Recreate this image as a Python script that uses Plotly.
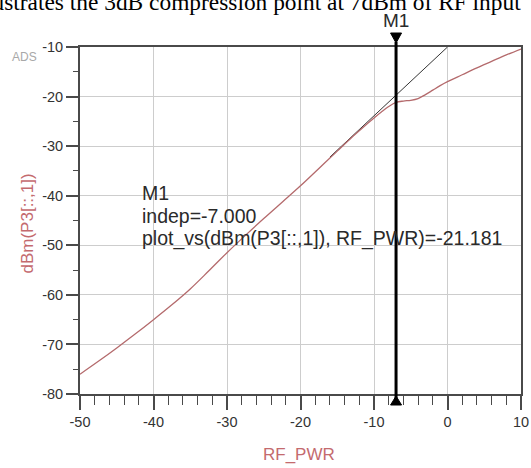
import plotly.graph_objects as go

# Swept RF input power (dBm) and simulated output power dBm(P3[::,1])
rf_pwr = [-50, -47.5, -45, -42.5, -40, -37.5, -35, -32.5, -30, -27.5, -25, -22.5,
          -20, -17.5, -15, -13, -11, -10, -9, -8, -7, -6, -5, -4, -3, -2, -1,
          0, 2, 4, 6, 8, 10]
p_out = [-76.0, -73.4, -70.7, -67.9, -65.0, -62.0, -58.8, -55.2, -51.5, -48.0,
         -44.6, -41.3, -38.0, -34.5, -31.0, -28.2, -25.6, -24.3, -23.1, -22.0,
         -21.181, -20.9, -20.75, -20.4, -19.6, -18.7, -17.8, -17.0, -15.6,
         -14.2, -12.9, -11.6, -10.4]

# Linear-gain reference line (extrapolated small-signal slope)
ref_x = [-16, 0]
ref_y = [-32.2, -10]

# Marker M1
m1_x = -7.0
m1_y = -21.181

x_ticks = [-50, -40, -30, -20, -10, 0, 10]
y_ticks = [-80, -70, -60, -50, -40, -30, -20, -10]

TRACE_RED = "#b46a6c"
TITLE_RED = "#c46a6e"
TEXT_DARK = "#2a2a2a"
AXIS_GREY = "#4a4a4a"
GRID_GREY = "#cdcdcd"
SANS = "Liberation Sans, Arial, sans-serif"

fig = go.Figure()

fig.add_trace(go.Scatter(
    x=ref_x, y=ref_y, mode="lines",
    line=dict(color="#333333", width=1), hoverinfo="skip", showlegend=False,
))
fig.add_trace(go.Scatter(
    x=rf_pwr, y=p_out, mode="lines", line_shape="spline",
    line=dict(color=TRACE_RED, width=1.3), showlegend=False,
))

# marker line across the plot, extended to the triangles above and below it
fig.add_shape(type="line", xref="x", yref="paper", ysizemode="pixel", yanchor=0,
              x0=m1_x, x1=m1_x, y0=-4, y1=352,
              line=dict(color="black", width=3))
fig.add_shape(type="path", xref="x", yref="paper", xsizemode="pixel", xanchor=m1_x,
              ysizemode="pixel", yanchor=1,
              path="M -5.5 14 L 5.5 14 L 0 4 Z",
              fillcolor="black", line=dict(color="black", width=1))
fig.add_shape(type="path", xref="x", yref="paper", xsizemode="pixel", xanchor=m1_x,
              ysizemode="pixel", yanchor=0,
              path="M -5.5 -11 L 5.5 -11 L 0 -2 Z",
              fillcolor="black", line=dict(color="black", width=1))

readout = ["M1", f"indep={m1_x:.3f}", f"plot_vs(dBm(P3[::,1]), RF_PWR)={m1_y:.3f}"]
readout_y = [0.579, 0.514, 0.449]

annotations = [
    dict(text="M1", xref="x", yref="paper", x=m1_x, y=1.077,
         xanchor="center", yanchor="middle", showarrow=False,
         font=dict(family=SANS, size=19, color=TEXT_DARK)),
    dict(text="ADS", xref="paper", yref="paper", x=-0.125, y=0.97,
         xanchor="center", yanchor="middle", showarrow=False,
         font=dict(family=SANS, size=12, color="#a8a8a8")),
    dict(text="dBm(P3[::,1])", xref="paper", yref="paper", x=-0.119, y=0.49,
         xanchor="center", yanchor="middle", textangle=-90, showarrow=False,
         font=dict(family=SANS, size=17, color=TITLE_RED)),
    dict(text="RF_PWR", xref="paper", yref="paper", x=0.4966, y=-0.173,
         xanchor="center", yanchor="middle", showarrow=False,
         font=dict(family=SANS, size=17, color=TITLE_RED)),
    dict(text="illustrates the 3dB compression point at 7dBm of RF input",
         xref="paper", yref="paper", x=1.005, y=1.1305, xanchor="right",
         yanchor="middle", showarrow=False,
         font=dict(family="Liberation Serif, Times New Roman, serif", size=23.4,
                   color="black")),
]
for line, ly in zip(readout, readout_y):
    annotations.append(dict(
        text=line, xref="paper", yref="paper", x=0.136, y=ly,
        xanchor="left", yanchor="middle", showarrow=False,
        font=dict(family=SANS, size=19.5, color=TEXT_DARK)))

fig.update_layout(
    width=531, height=468,
    margin=dict(l=80, r=10, t=47, b=74, autoexpand=False),
    paper_bgcolor="white", plot_bgcolor="white",
    annotations=annotations,
    xaxis=dict(
        range=[-50, 10], tickvals=x_ticks, ticktext=[str(v) for v in x_ticks],
        showgrid=True, gridcolor=GRID_GREY, gridwidth=1, zeroline=False,
        showline=True, linecolor=AXIS_GREY, linewidth=2, mirror=True,
        ticks="outside", ticklen=14, tickwidth=1.5, tickcolor=AXIS_GREY,
        minor=dict(dtick=2, ticks="outside", ticklen=9, tickwidth=1.2,
                   tickcolor=AXIS_GREY, showgrid=False),
        tickfont=dict(family=SANS, size=14.5, color="#333333"),
        automargin=False, fixedrange=True,
    ),
    yaxis=dict(
        range=[-80, -10], tickvals=y_ticks, ticktext=[str(v) for v in y_ticks],
        showgrid=True, gridcolor=GRID_GREY, gridwidth=1, zeroline=False,
        showline=True, linecolor=AXIS_GREY, linewidth=2, mirror=True,
        ticks="outside", ticklen=12, tickwidth=1.5, tickcolor=AXIS_GREY,
        minor=dict(dtick=5, ticks="outside", ticklen=5, tickwidth=1.2,
                   tickcolor=AXIS_GREY, showgrid=False),
        tickfont=dict(family=SANS, size=14.5, color="#333333"),
        automargin=False, fixedrange=True,
    ),
)

fig.write_html("out.html")
